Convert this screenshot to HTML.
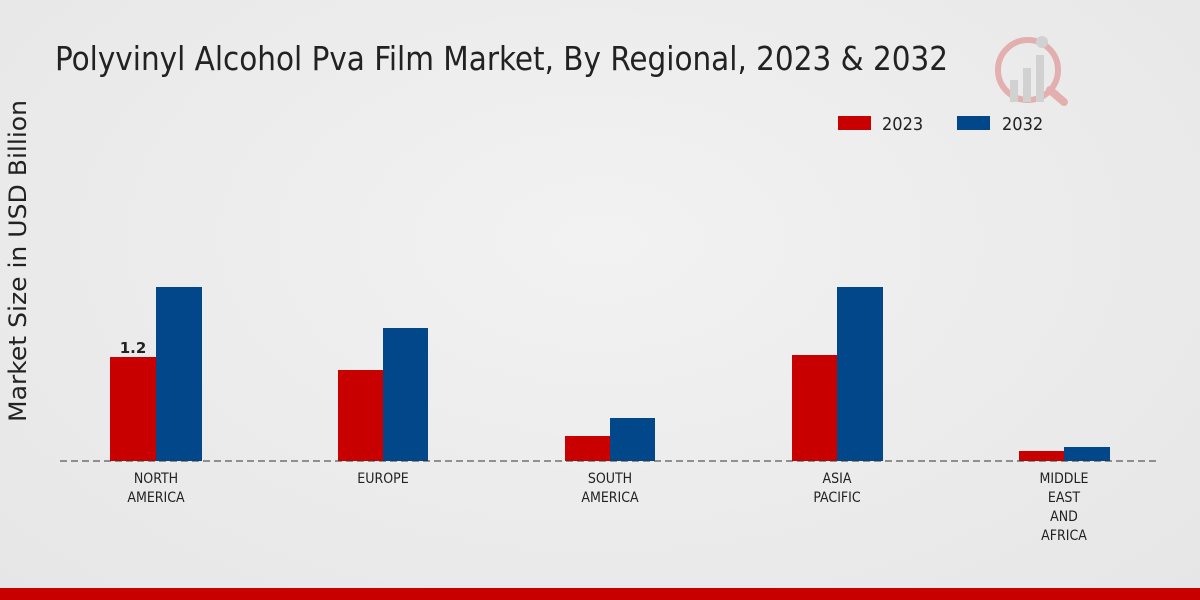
<!DOCTYPE html>
<html><head><meta charset="utf-8"><style>
html,body{margin:0;padding:0}
body{width:1200px;height:600px;overflow:hidden;background:radial-gradient(ellipse at 50% 40%,#f2f2f2 0%,#e6e6e6 100%);font-family:"DejaVu Sans Condensed","DejaVu Sans","Liberation Sans",sans-serif;}
</style></head><body>
<svg width="1200" height="600" xmlns="http://www.w3.org/2000/svg" style="position:absolute;left:0;top:0">
<text x="55" y="70" font-size="33" fill="#222" textLength="893" lengthAdjust="spacingAndGlyphs" font-family="DejaVu Sans Condensed, DejaVu Sans, sans-serif">Polyvinyl Alcohol Pva Film Market, By Regional, 2023 &amp; 2032</text>
<g opacity="0.25">
<circle cx="1028" cy="70" r="30" fill="none" stroke="#c00" stroke-width="6"/>
<rect x="1010" y="80" width="8" height="22" fill="#888"/>
<rect x="1023" y="68" width="8" height="34" fill="#888"/>
<rect x="1036" y="55" width="8" height="47" fill="#888"/>
<circle cx="1042" cy="42" r="6" fill="#888"/>
<line x1="1050" y1="90" x2="1064" y2="102" stroke="#c00" stroke-width="8" stroke-linecap="round"/>
</g>
<rect x="838" y="116" width="33" height="14" fill="#c80000"/>
<text x="882" y="130" font-size="18" fill="#222">2023</text>
<rect x="957" y="116" width="33" height="14" fill="#02478a"/>
<text x="1002" y="130" font-size="18" fill="#222">2032</text>
<text transform="translate(26,261) rotate(-90)" text-anchor="middle" font-size="24" fill="#222" textLength="322" lengthAdjust="spacingAndGlyphs" font-family="DejaVu Sans, sans-serif">Market Size in USD Billion</text>
<g>
<rect x="110" y="357" width="46" height="104" fill="#c80000"/><rect x="156" y="287" width="46" height="174" fill="#02478a"/>
<rect x="338" y="370" width="45" height="91" fill="#c80000"/><rect x="383" y="328" width="45" height="133" fill="#02478a"/>
<rect x="565" y="436" width="45" height="25" fill="#c80000"/><rect x="610" y="418" width="45" height="43" fill="#02478a"/>
<rect x="792" y="355" width="45" height="106" fill="#c80000"/><rect x="837" y="287" width="46" height="174" fill="#02478a"/>
<rect x="1019" y="451" width="45" height="10" fill="#c80000"/><rect x="1064" y="447" width="46" height="14" fill="#02478a"/>
</g>
<text x="133" y="353" text-anchor="middle" font-size="15" font-weight="bold" fill="#222" font-family="DejaVu Sans, sans-serif">1.2</text>
<line x1="60" y1="461" x2="1160" y2="461" stroke="#333" stroke-width="1" stroke-dasharray="7,4"/>
<g font-size="14" fill="#222" text-anchor="middle">
<text x="156" y="483">NORTH</text><text x="156" y="502">AMERICA</text>
<text x="383" y="483">EUROPE</text>
<text x="610" y="483">SOUTH</text><text x="610" y="502">AMERICA</text>
<text x="837" y="483">ASIA</text><text x="837" y="502">PACIFIC</text>
<text x="1064" y="483">MIDDLE</text><text x="1064" y="502">EAST</text><text x="1064" y="521">AND</text><text x="1064" y="540">AFRICA</text>
</g>
<rect x="0" y="588" width="1200" height="12" fill="#c80000"/>
</svg>
</body></html>
